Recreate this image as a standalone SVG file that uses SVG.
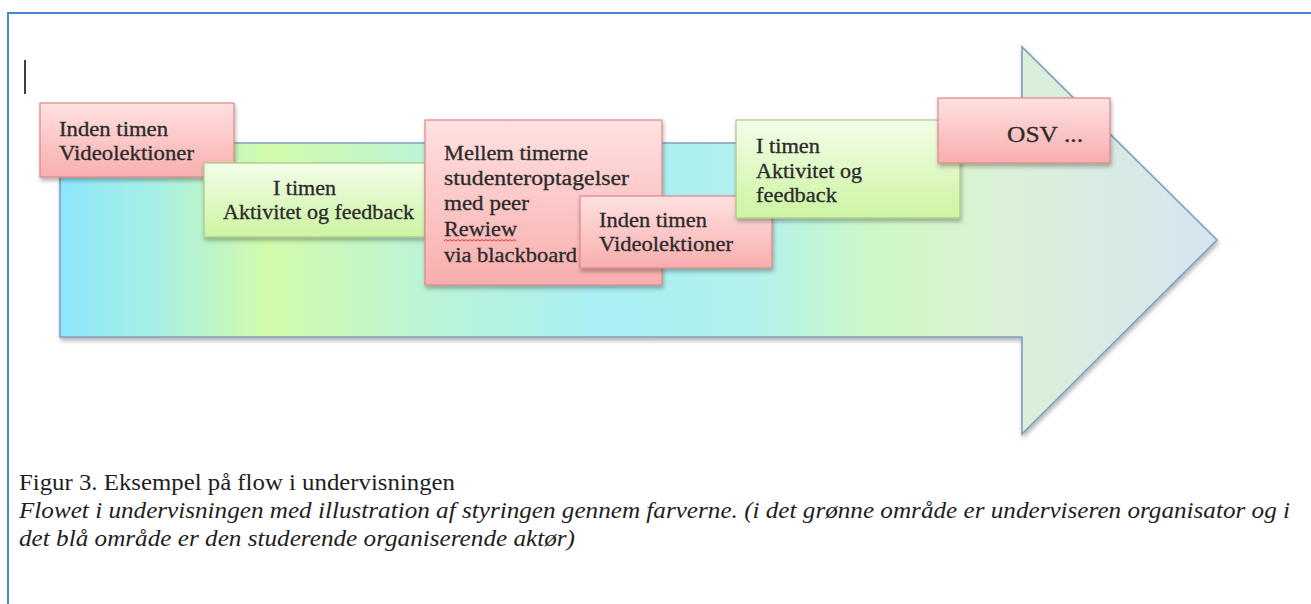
<svg xmlns="http://www.w3.org/2000/svg" width="1311" height="604" viewBox="0 0 1311 604">
  <defs>
    <linearGradient id="arrowGrad" x1="0" y1="0" x2="1" y2="0">
      <stop offset="0" stop-color="#8de6fb"/>
      <stop offset="0.08" stop-color="#a6efe6"/>
      <stop offset="0.18" stop-color="#d3fbab"/>
      <stop offset="0.31" stop-color="#bcf5d4"/>
      <stop offset="0.47" stop-color="#a9eff4"/>
      <stop offset="0.6" stop-color="#b2f1ec"/>
      <stop offset="0.71" stop-color="#d0f8c4"/>
      <stop offset="0.81" stop-color="#dbf1d6"/>
      <stop offset="1" stop-color="#d6e4f1"/>
    </linearGradient>
    <linearGradient id="pinkGrad" x1="0" y1="0" x2="0" y2="1">
      <stop offset="0" stop-color="#ffe1e1"/>
      <stop offset="1" stop-color="#f8aeae"/>
    </linearGradient>
    <linearGradient id="greenGrad" x1="0" y1="0" x2="0" y2="1">
      <stop offset="0" stop-color="#f3fde9"/>
      <stop offset="1" stop-color="#cdf4a2"/>
    </linearGradient>
    <filter id="shadow" x="-10%" y="-10%" width="130%" height="140%">
      <feDropShadow dx="1" dy="3" stdDeviation="2" flood-color="#000" flood-opacity="0.3"/>
    </filter>
    <style>
      .pink { fill: url(#pinkGrad); stroke: #e08585; stroke-width: 1.2; filter: url(#shadow); }
      .green { fill: url(#greenGrad); stroke: #a9c98a; stroke-width: 1.2; filter: url(#shadow); }
      .lbl { font-family: "Liberation Serif", "DejaVu Serif", serif; font-size: 20px; fill: #2b2b2b; stroke: #2b2b2b; stroke-width: 0.3; }
      .cap { font-family: "Liberation Serif", "DejaVu Serif", serif; font-size: 23px; fill: #1e1e1e; }
      .it { font-style: italic; }
    </style>
  </defs>

  <rect x="0" y="0" width="1311" height="604" fill="#ffffff"/>

  <!-- frame -->
  <g id="frame" fill="none" stroke="#4a84d4" stroke-width="2">
    <line x1="8" y1="13" x2="1311" y2="13"/>
    <line x1="8" y1="12" x2="8" y2="604"/>
  </g>

  <!-- text cursor -->
  <line x1="25" y1="60" x2="25" y2="94" stroke="#000" stroke-width="1.5"/>

  <!-- big arrow -->
  <g id="arrow">
    <path d="M60,143 L1022,143 L1022,47 L1217,240 L1022,434 L1022,337 L60,337 Z" fill="url(#arrowGrad)" stroke="#7f9fc2" stroke-width="1.6" filter="url(#shadow)"/>
  </g>

  <g id="connectors"></g>

  <g id="box1">
    <rect class="pink" x="40" y="103" width="194" height="74"/>
    <text class="lbl" x="59" y="136" textLength="109" lengthAdjust="spacingAndGlyphs">Inden timen</text>
    <text class="lbl" x="59" y="160" textLength="135" lengthAdjust="spacingAndGlyphs">Videolektioner</text>
  </g>

  <g id="box2">
    <rect class="green" x="204" y="163" width="221" height="74"/>
    <text class="lbl" x="273" y="195" textLength="63" lengthAdjust="spacingAndGlyphs">I timen</text>
    <text class="lbl" x="223" y="219" textLength="191" lengthAdjust="spacingAndGlyphs">Aktivitet og feedback</text>
  </g>

  <g id="box3">
    <rect class="pink" x="425" y="120" width="237" height="165"/>
    <text class="lbl" x="444" y="160" textLength="144" lengthAdjust="spacingAndGlyphs">Mellem timerne</text>
    <text class="lbl" x="444" y="185" textLength="185" lengthAdjust="spacingAndGlyphs">studenteroptagelser</text>
    <text class="lbl" x="444" y="210" textLength="85" lengthAdjust="spacingAndGlyphs">med peer</text>
    <text class="lbl" x="444" y="236" textLength="73" lengthAdjust="spacingAndGlyphs">Rewiew</text>
    <path d="M444,241 l2,-1.5 l2,1.5 l2,-1.5 l2,1.5 l2,-1.5 l2,1.5 l2,-1.5 l2,1.5 l2,-1.5 l2,1.5 l2,-1.5 l2,1.5 l2,-1.5 l2,1.5 l2,-1.5 l2,1.5 l2,-1.5 l2,1.5 l2,-1.5 l2,1.5 l2,-1.5 l2,1.5 l2,-1.5 l2,1.5 l2,-1.5 l2,1.5 l2,-1.5 l2,1.5 l2,-1.5 l2,1.5 l2,-1.5 l2,1.5 l2,-1.5 l2,1.5 l2,-1.5 l2,1.5" fill="none" stroke="#e23a3a" stroke-width="1"/>
    <text class="lbl" x="444" y="262" textLength="133" lengthAdjust="spacingAndGlyphs">via blackboard</text>
  </g>

  <g id="box4">
    <rect class="pink" x="580" y="196" width="192" height="72"/>
    <text class="lbl" x="599" y="227" textLength="108" lengthAdjust="spacingAndGlyphs">Inden timen</text>
    <text class="lbl" x="599" y="251" textLength="134" lengthAdjust="spacingAndGlyphs">Videolektioner</text>
  </g>

  <g id="box5">
    <rect class="green" x="736" y="120" width="224" height="98"/>
    <text class="lbl" x="756" y="153" textLength="64" lengthAdjust="spacingAndGlyphs">I timen</text>
    <text class="lbl" x="756" y="178" textLength="106" lengthAdjust="spacingAndGlyphs">Aktivitet og</text>
    <text class="lbl" x="756" y="202" textLength="81" lengthAdjust="spacingAndGlyphs">feedback</text>
  </g>

  <g id="box6">
    <rect class="pink" x="938" y="98" width="172" height="65"/>
    <text class="lbl" x="1007" y="142" font-size="24" style="font-size:24px" textLength="76" lengthAdjust="spacingAndGlyphs">OSV ...</text>
  </g>

  <!-- caption -->
  <g id="caption">
    <text class="cap" x="19" y="490" textLength="436" lengthAdjust="spacingAndGlyphs">Figur 3. Eksempel på flow i undervisningen</text>
    <text class="cap it" x="19" y="518" textLength="1271" lengthAdjust="spacingAndGlyphs">Flowet i undervisningen med illustration af styringen gennem farverne. (i det grønne område er underviseren organisator og i</text>
    <text class="cap it" x="19" y="546" textLength="556" lengthAdjust="spacingAndGlyphs">det blå område er den studerende organiserende aktør)</text>
  </g>
</svg>
